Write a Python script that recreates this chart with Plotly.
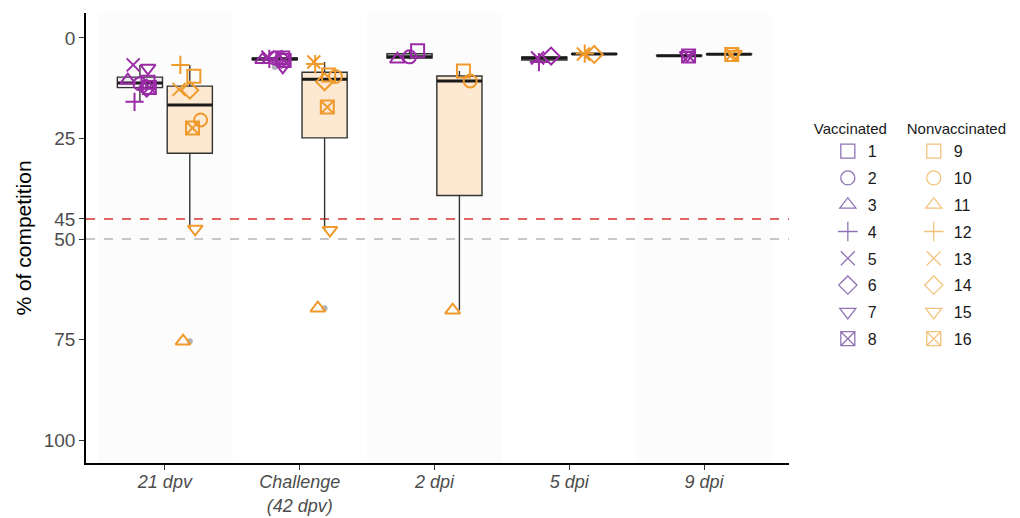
import numpy as np
import plotly.graph_objects as go

# ---- data -----------------------------------------------------------------
TIMEPOINTS = ["21 dpv", "Challenge<br>(42 dpv)", "2 dpi", "5 dpi", "9 dpi"]
VACCINATED_IDS = ["1", "2", "3", "4", "5", "6", "7", "8"]
NONVACCINATED_IDS = ["9", "10", "11", "12", "13", "14", "15", "16"]

N = None  # animal not sampled at that time point
# % of competition, rows = animals, columns = time points
VACCINATED = [
    [11.0, 5.0, 3.2, N, N],
    [11.4, 5.0, 4.7, N, N],
    [10.5, 5.4, 5.3, N, N],
    [15.9, 5.2, N, 6.0, N],
    [6.7, 4.8, N, 5.0, N],
    [12.5, 5.3, N, 4.5, N],
    [7.5, 7.2, N, N, 4.3],
    [12.3, 5.6, N, N, 4.5],
]
NONVACCINATED = [
    [9.5, 9.2, 8.2, N, N],
    [20.4, 9.6, 10.7, N, N],
    [75.4, 67.2, 67.7, N, N],
    [6.7, 6.5, N, 3.9, N],
    [12.8, 6.0, N, 4.0, N],
    [13.0, 10.9, N, 4.1, N],
    [47.5, 47.8, N, N, 4.0],
    [22.4, 17.2, N, N, 4.1],
]
THRESHOLDS = [45, 50]
Y_TICKS = [0, 25, 45, 50, 75, 100]

# ---- styling --------------------------------------------------------------
SYMBOLS = ["square-open", "circle-open", "triangle-up-open", "cross-thin-open",
           "x-thin-open", "diamond-open", "triangle-down-open", "square-x-open"]
PURPLE, ORANGE = "#9a2aa6", "#f09a2c"
PURPLE_LEGEND, ORANGE_LEGEND = "#8f73b4", "#f3c27c"
PURPLE_FILL, ORANGE_FILL = "#f5e9f6", "#fde8d1"
THRESHOLD_COLORS = ["#d8302f", "#b5b5b5"]
BOX_OFFSET = 0.185
BOX_WIDTH = 0.335
# horizontal spread of each animal's marker around its box centre
JITTER_VAC = [0.06, 0.0, -0.09, -0.04, -0.05, 0.05, 0.06, 0.07]
JITTER_NONVAC = [0.03, 0.08, -0.05, -0.07, -0.08, 0.0, 0.04, 0.02]
FONT = "Liberation Sans, Arial, sans-serif"


def box_stats(values):
    v = np.array([x for x in values if x is not None], dtype=float)
    q1, med, q3 = np.percentile(v, [25, 50, 75])
    iqr = q3 - q1
    inside = v[(v >= q1 - 1.5 * iqr) & (v <= q3 + 1.5 * iqr)]
    outliers = v[(v < q1 - 1.5 * iqr) | (v > q3 + 1.5 * iqr)]
    return q1, med, q3, inside.min(), inside.max(), outliers


fig = go.Figure()

groups = [
    (VACCINATED, VACCINATED_IDS, -BOX_OFFSET, PURPLE, PURPLE_LEGEND, PURPLE_FILL,
     JITTER_VAC, "legend"),
    (NONVACCINATED, NONVACCINATED_IDS, BOX_OFFSET, ORANGE, ORANGE_LEGEND, ORANGE_FILL,
     JITTER_NONVAC, "legend2"),
]

for table, ids, offset, color, legend_color, fill, jitter, legend_name in groups:
    pos, q1s, meds, q3s, lows, highs = [], [], [], [], [], []
    out_x, out_y = [], []
    for t in range(len(TIMEPOINTS)):
        column = [row[t] for row in table]
        q1, med, q3, lo, hi, outs = box_stats(column)
        pos.append(t + offset)
        q1s.append(q1); meds.append(med); q3s.append(q3)
        lows.append(lo); highs.append(hi)
        out_x += [t + offset] * len(outs)
        out_y += list(outs)

    # box + whiskers
    fig.add_trace(go.Box(
        x=pos, q1=q1s, median=meds, q3=q3s, lowerfence=lows, upperfence=highs,
        width=BOX_WIDTH, whiskerwidth=0, boxpoints=False,
        fillcolor=fill, line=dict(color="#333333", width=1.4),
        showlegend=False, hoverinfo="skip"))
    # heavier median bar
    fig.add_trace(go.Box(
        x=pos, q1=meds, median=meds, q3=meds, lowerfence=meds, upperfence=meds,
        width=BOX_WIDTH, whiskerwidth=0, boxpoints=False,
        fillcolor="rgba(0,0,0,0)", line=dict(color="#1a1a1a", width=3),
        showlegend=False, hoverinfo="skip"))
    # boxplot outliers
    if out_x:
        fig.add_trace(go.Scatter(
            x=out_x, y=out_y, mode="markers",
            marker=dict(color="#aeb4bc", size=6),
            showlegend=False, hoverinfo="skip"))

    # individual animals
    for k, (row, name) in enumerate(zip(table, ids)):
        xs = [t + offset + jitter[k] for t, v in enumerate(row) if v is not None]
        ys = [v for v in row if v is not None]
        group = f"animal{name}"
        fig.add_trace(go.Scatter(
            x=xs, y=ys, mode="markers", legendgroup=group, showlegend=False,
            marker=dict(symbol=SYMBOLS[k], size=13, color=color,
                        line=dict(color=color, width=2)),
            name=name))
        fig.add_trace(go.Scatter(
            x=[None], y=[None], mode="markers", legendgroup=group,
            legend=legend_name, name=name,
            marker=dict(symbol=SYMBOLS[k], size=14, color=legend_color,
                        line=dict(color=legend_color, width=1.3))))

# alternating background bands and reference lines
shapes = []
for t in range(0, len(TIMEPOINTS), 2):
    shapes.append(dict(type="rect", xref="x", yref="paper", x0=t - 0.5, x1=t + 0.5,
                       y0=0, y1=1, fillcolor="#fcfcfc", line=dict(width=0),
                       layer="below"))
for thr, c in zip(THRESHOLDS, THRESHOLD_COLORS):
    shapes.append(dict(type="line", xref="paper", yref="y", x0=0, x1=1, y0=thr, y1=thr,
                       line=dict(color=c, width=1.5, dash="dash"), layer="below"))

legend_common = dict(
    yanchor="top", xanchor="left", y=0.774, bgcolor="rgba(0,0,0,0)",
    font=dict(family=FONT, size=16, color="#1a1a1a"), tracegroupgap=3,
)
fig.update_layout(
    width=1020, height=518, autosize=False,
    margin=dict(l=86, r=230, t=13, b=55),
    plot_bgcolor="white", paper_bgcolor="white",
    font=dict(family=FONT),
    shapes=shapes,
    legend=dict(**legend_common, x=1.031, indentation=16,
                title=dict(text="Vaccinated", font=dict(family=FONT, size=15, color="#1a1a1a"))),
    legend2=dict(**legend_common, x=1.163, indentation=9,
                 title=dict(text="Nonvaccinated", font=dict(family=FONT, size=15, color="#1a1a1a"))),
    xaxis=dict(range=[-0.585, 4.63], tickmode="array", tickvals=list(range(len(TIMEPOINTS))),
               ticktext=TIMEPOINTS, showgrid=False, zeroline=False, automargin=False,
               showline=True, linecolor="black", linewidth=1.6,
               ticks="outside", ticklen=5, tickcolor="#333333", tickwidth=1.2,
               ticklabelstandoff=-3,
               tickfont=dict(family=FONT, size=18, color="#4d4d4d", style="italic")),
    yaxis=dict(range=[105.7, -6.2], tickmode="array", tickvals=Y_TICKS,
               showgrid=False, zeroline=False, automargin=False,
               showline=True, linecolor="black", linewidth=1.6,
               ticks="outside", ticklen=5, tickcolor="#333333", tickwidth=1.2,
               tickfont=dict(family=FONT, size=19, color="#4d4d4d"),
               title=dict(text="% of competition", standoff=6,
                          font=dict(family=FONT, size=21, color="black"))),
)

fig.write_html("out.html")
